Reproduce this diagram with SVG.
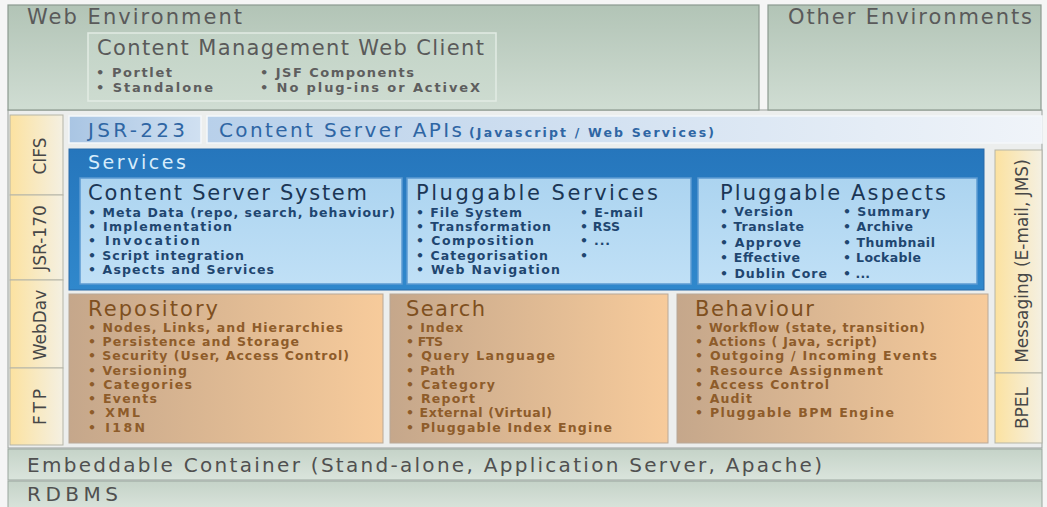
<svg xmlns="http://www.w3.org/2000/svg" width="1047" height="507" viewBox="0 0 1047 507">
<defs>
<linearGradient id="gEnv" x1="0" y1="0" x2="0" y2="1"><stop offset="0" stop-color="#b2c4b6"/><stop offset="1" stop-color="#d0ddd3"/></linearGradient>
<linearGradient id="gClient" x1="0" y1="0" x2="0" y2="1"><stop offset="0" stop-color="#c2d3c6"/><stop offset="1" stop-color="#cddbd0"/></linearGradient>
<linearGradient id="gTab" x1="0" y1="0" x2="1" y2="0"><stop offset="0" stop-color="#fce2a0"/><stop offset="1" stop-color="#f4f0e2"/></linearGradient>
<linearGradient id="gApi" x1="0" y1="0" x2="1" y2="0"><stop offset="0" stop-color="#b8d0ea"/><stop offset="1" stop-color="#f0f4f9"/></linearGradient>
<linearGradient id="gJsr" x1="0" y1="0" x2="1" y2="0"><stop offset="0" stop-color="#a9c5e3"/><stop offset="1" stop-color="#d0e0f1"/></linearGradient>
<linearGradient id="gSvc" x1="0" y1="0" x2="0" y2="1"><stop offset="0" stop-color="#2676bc"/><stop offset="1" stop-color="#3088cc"/></linearGradient>
<linearGradient id="gSvcIn" x1="0" y1="0" x2="0" y2="1"><stop offset="0" stop-color="#acd4f0"/><stop offset="1" stop-color="#c0e0f6"/></linearGradient>
<linearGradient id="gOr" x1="0" y1="0" x2="1" y2="0"><stop offset="0" stop-color="#c5a78b"/><stop offset="1" stop-color="#f7cb9b"/></linearGradient>
<linearGradient id="gBar" x1="0" y1="0" x2="0" y2="1"><stop offset="0" stop-color="#c5d3c8"/><stop offset="1" stop-color="#dae4dc"/></linearGradient>
</defs>
<style>
text{font-family:"DejaVu Sans","Open Sans",sans-serif}
.env{fill:url(#gEnv);stroke:#8c9a90;stroke-width:1.2}
.client{fill:url(#gClient);stroke:#e2ebe4;stroke-width:1.5}
.tab{fill:url(#gTab);stroke:#b5b5a8;stroke-width:1}
.svcin{fill:url(#gSvcIn);stroke:#5c9bd2;stroke-width:1.5}
.or{fill:url(#gOr);stroke:#b8a898;stroke-width:1}
.bar{fill:url(#gBar);stroke:#9aa69e;stroke-width:1}
.tEnv{font-size:21px;fill:#5a5a5a}
.tEnvB{font-size:13px;font-weight:bold;fill:#5e5e5e}
.tTab{font-size:17px;fill:#474747}
.tApi{font-size:20px;fill:#2f66a4}
.tApiS{font-size:12.5px;font-weight:bold;fill:#2f66a4}
.tSvcT{font-size:19px;fill:#d6ecfb}
.tSvcH{font-size:21px;fill:#1b3655}
.tSvcB{font-size:12.5px;font-weight:bold;fill:#1f4670}
.tOrH{font-size:21px;fill:#7f5020}
.tOrB{font-size:12.5px;font-weight:bold;fill:#8e5c2a}
.tBar{font-size:20px;fill:#505050}
</style>
<rect x="0" y="0" width="1047" height="507" fill="#f5f5f5"/>
<rect x="8" y="110" width="1034" height="338" fill="#eceeed" stroke="#9aa09c" stroke-width="1"/>
<g id="web-environment">
<rect class="env" x="8" y="5" width="751" height="105"/>
<text class="tEnv" x="27" y="24" textLength="215">Web Environment</text>
</g>
<g id="web-client">
<rect class="client" x="88" y="33" width="408" height="68"/>
<text class="tEnv" x="97" y="55" textLength="387">Content Management Web Client</text>
<text class="tEnvB" x="96" y="77" textLength="76">• Portlet</text>
<text class="tEnvB" x="96" y="92" textLength="117">• Standalone</text>
<text class="tEnvB" x="260" y="77" textLength="154">• JSF Components</text>
<text class="tEnvB" x="260" y="92" textLength="220">• No plug-ins or ActiveX</text>
</g>
<g id="other-environments">
<rect class="env" x="768" y="5" width="273" height="105"/>
<text class="tEnv" x="788" y="24" textLength="244">Other Environments</text>
</g>
<g id="tab-cifs">
<rect class="tab" x="10" y="115" width="53" height="80"/>
<text class="tTab" transform="translate(46 156) rotate(-90)" text-anchor="middle">CIFS</text>
</g>
<g id="tab-jsr170">
<rect class="tab" x="10" y="195" width="53" height="85"/>
<text class="tTab" transform="translate(46 238) rotate(-90)" text-anchor="middle">JSR-170</text>
</g>
<g id="tab-webdav">
<rect class="tab" x="10" y="280" width="53" height="88"/>
<text class="tTab" transform="translate(46 325) rotate(-90)" text-anchor="middle">WebDav</text>
</g>
<g id="tab-ftp">
<rect class="tab" x="10" y="368" width="53" height="77"/>
<text class="tTab" transform="translate(46 407) rotate(-90)" text-anchor="middle" textLength="36">FTP</text>
</g>
<g id="jsr223">
<rect x="69" y="116" width="132" height="27" fill="url(#gJsr)" stroke="#f4f7fa" stroke-width="1.5"/>
<text class="tApi" x="88" y="137" textLength="97">JSR-223</text>
</g>
<g id="content-server-apis">
<rect x="207" y="116" width="835" height="27" fill="url(#gApi)" stroke="#f4f7fa" stroke-width="1.5"/>
<text class="tApi" x="219" y="137" textLength="243">Content Server APIs</text>
<text class="tApiS" x="469" y="137" textLength="245">(Javascript / Web Services)</text>
</g>
<g id="services">
<rect x="69" y="149" width="915" height="141" fill="url(#gSvc)" stroke="#2a6aa8" stroke-width="1"/>
<text class="tSvcT" x="88" y="169" textLength="98">Services</text>
</g>
<g id="content-server-system">
<rect class="svcin" x="80" y="178" width="322" height="106"/>
<text class="tSvcH" x="88" y="200" textLength="279">Content Server System</text>
<text class="tSvcB" x="88" y="217" textLength="307">• Meta Data (repo, search, behaviour)</text>
<text class="tSvcB" x="88" y="231" textLength="144">• Implementation</text>
<text class="tSvcB" x="88" y="245" textLength="112">• Invocation</text>
<text class="tSvcB" x="88" y="260" textLength="156">• Script integration</text>
<text class="tSvcB" x="88" y="274" textLength="186">• Aspects and Services</text>
</g>
<g id="pluggable-services">
<rect class="svcin" x="407" y="178" width="284" height="106"/>
<text class="tSvcH" x="416" y="200" textLength="242">Pluggable Services</text>
<text class="tSvcB" x="416" y="217" textLength="106">• File System</text>
<text class="tSvcB" x="416" y="231" textLength="135">• Transformation</text>
<text class="tSvcB" x="416" y="245" textLength="118">• Composition</text>
<text class="tSvcB" x="416" y="260" textLength="132">• Categorisation</text>
<text class="tSvcB" x="416" y="274" textLength="144">• Web Navigation</text>
<text class="tSvcB" x="580" y="217" textLength="63">• E-mail</text>
<text class="tSvcB" x="580" y="231" textLength="40">• RSS</text>
<text class="tSvcB" x="580" y="245" textLength="30">• ...</text>
<text class="tSvcB" x="580" y="260">•</text>
</g>
<g id="pluggable-aspects">
<rect class="svcin" x="698" y="178" width="279" height="106"/>
<text class="tSvcH" x="720" y="200" textLength="226">Pluggable Aspects</text>
<text class="tSvcB" x="720" y="216" textLength="73">• Version</text>
<text class="tSvcB" x="720" y="231" textLength="84">• Translate</text>
<text class="tSvcB" x="720" y="247" textLength="81">• Approve</text>
<text class="tSvcB" x="720" y="262" textLength="80">• Effective</text>
<text class="tSvcB" x="720" y="278" textLength="107">• Dublin Core</text>
<text class="tSvcB" x="843" y="216" textLength="87">• Summary</text>
<text class="tSvcB" x="843" y="231" textLength="70">• Archive</text>
<text class="tSvcB" x="843" y="247" textLength="92">• Thumbnail</text>
<text class="tSvcB" x="843" y="262" textLength="78">• Lockable</text>
<text class="tSvcB" x="843" y="278" textLength="27">• ...</text>
</g>
<g id="repository">
<rect class="or" x="69" y="294" width="314" height="149"/>
<text class="tOrH" x="88" y="316" textLength="130">Repository</text>
<text class="tOrB" x="88" y="332" textLength="255">• Nodes, Links, and Hierarchies</text>
<text class="tOrB" x="88" y="346" textLength="211">• Persistence and Storage</text>
<text class="tOrB" x="88" y="360" textLength="261">• Security (User, Access Control)</text>
<text class="tOrB" x="88" y="375" textLength="99">• Versioning</text>
<text class="tOrB" x="88" y="389" textLength="104">• Categories</text>
<text class="tOrB" x="88" y="403" textLength="69">• Events</text>
<text class="tOrB" x="88" y="417" textLength="52">• XML</text>
<text class="tOrB" x="88" y="432" textLength="57">•  I18N</text>
</g>
<g id="search">
<rect class="or" x="390" y="294" width="278" height="149"/>
<text class="tOrH" x="406" y="316" textLength="79">Search</text>
<text class="tOrB" x="406" y="332" textLength="57">• Index</text>
<text class="tOrB" x="406" y="346" textLength="37">• FTS</text>
<text class="tOrB" x="406" y="360" textLength="149">• Query Language</text>
<text class="tOrB" x="406" y="375" textLength="49">• Path</text>
<text class="tOrB" x="406" y="389" textLength="89">• Category</text>
<text class="tOrB" x="406" y="403" textLength="69">• Report</text>
<text class="tOrB" x="406" y="417" textLength="146">• External (Virtual)</text>
<text class="tOrB" x="406" y="432" textLength="206">• Pluggable Index Engine</text>
</g>
<g id="behaviour">
<rect class="or" x="677" y="294" width="311" height="149"/>
<text class="tOrH" x="695" y="316" textLength="119">Behaviour</text>
<text class="tOrB" x="695" y="332" textLength="230">• Workflow (state, transition)</text>
<text class="tOrB" x="695" y="346" textLength="182">• Actions ( Java, script)</text>
<text class="tOrB" x="695" y="360" textLength="242">• Outgoing / Incoming Events</text>
<text class="tOrB" x="695" y="375" textLength="188">• Resource Assignment</text>
<text class="tOrB" x="695" y="389" textLength="134">• Access Control</text>
<text class="tOrB" x="695" y="403" textLength="57">• Audit</text>
<text class="tOrB" x="695" y="417" textLength="199">• Pluggable BPM Engine</text>
</g>
<g id="tab-messaging">
<rect class="tab" x="995" y="150" width="47" height="223"/>
<text class="tTab" transform="translate(1028 261) rotate(-90)" text-anchor="middle">Messaging (E-mail, JMS)</text>
</g>
<g id="tab-bpel">
<rect class="tab" x="995" y="373" width="47" height="70"/>
<text class="tTab" transform="translate(1028 408) rotate(-90)" text-anchor="middle">BPEL</text>
</g>
<g id="embeddable-container">
<rect class="bar" x="8" y="449" width="1034" height="31"/>
<text class="tBar" x="27" y="472" textLength="795">Embeddable Container (Stand-alone, Application Server, Apache)</text>
</g>
<g id="rdbms">
<rect class="bar" x="8" y="481" width="1034" height="30"/>
<text class="tBar" x="27" y="501" textLength="91">RDBMS</text>
</g>
<g id="connectors"/>
</svg>
